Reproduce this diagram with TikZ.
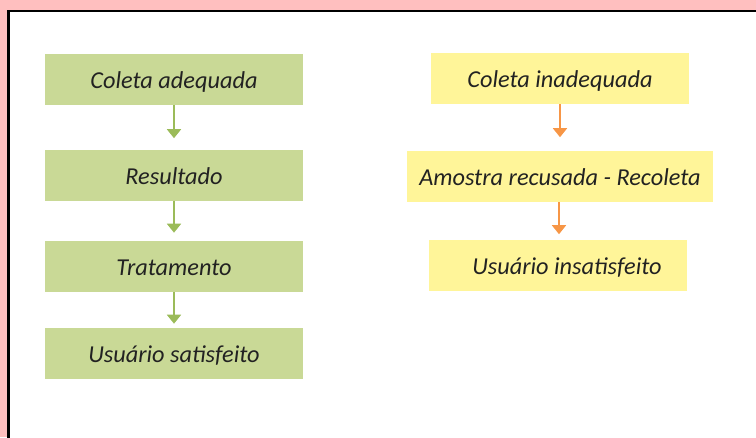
\documentclass[tikz,border=0pt]{standalone}
\usepackage{fontspec}
\setmainfont{Carlito}
\usetikzlibrary{arrows.meta}
\definecolor{bgpink}{HTML}{FFBFBF}
\definecolor{boxgreen}{HTML}{C9D996}
\definecolor{boxyellow}{HTML}{FFF599}
\definecolor{arrgreen}{HTML}{9BBB59}
\definecolor{arrorange}{HTML}{F79646}
\definecolor{txt}{HTML}{222222}
\tikzset{
  gbox/.style={fill=boxgreen, draw=none, minimum width=258pt, minimum height=51pt, inner sep=0pt, text height=18pt, text depth=0pt, font=\itshape\fontsize{24.3}{28}\selectfont, text=txt},
  ybox/.style={fill=boxyellow, draw=none, minimum height=51pt, inner sep=0pt, text height=18pt, text depth=0pt, font=\itshape\fontsize{24.3}{28}\selectfont, text=txt},
  garrow/.style={draw=arrgreen, line width=1.6pt, -{Triangle[width=14pt,length=9pt]}},
  oarrow/.style={draw=arrorange, line width=1.6pt, -{Triangle[width=14pt,length=9pt]}},
}
\begin{document}
\begin{tikzpicture}[x=1pt,y=-1pt]
\useasboundingbox (0,0) rectangle (756,437);
\fill[bgpink] (0,0) rectangle (756,437);
\begin{scope}
\clip (0,0) rectangle (756,437);
\draw[fill=white, line width=2.4pt] (8.5,11) rectangle (800,480);
\end{scope}
% green column
\node[gbox] (g1) at (174,79.5) {Coleta adequada};
\node[gbox] (g2) at (174,175) {Resultado};
\node[gbox] (g3) at (174,266) {Tratamento};
\node[gbox] (g4) at (174,353.5) {Usuário satisfeito};
\draw[garrow] (g1.south) -- ++(0,33) coordinate (ga1);
\draw[garrow] (g2.south) -- ++(0,32) coordinate (ga2);
\draw[garrow] (g3.south) -- ++(0,32) coordinate (ga3);
% yellow column
\node[ybox, minimum width=258pt] (y1) at (560,78.5) {Coleta inadequada};
\node[ybox, minimum width=306pt] (y2) at (560,176.5) {Amostra recusada - Recoleta};
\node[ybox, minimum width=258pt] (y3) at (558,265.5) {\hspace*{18pt}Usuário insatisfeito};
\draw[oarrow] (y1.south) -- ++(0,33) coordinate (ya1);
\draw[oarrow] ([xshift=-1pt]y2.south) -- ++(0,32) coordinate (ya2);
\end{tikzpicture}
\end{document}
